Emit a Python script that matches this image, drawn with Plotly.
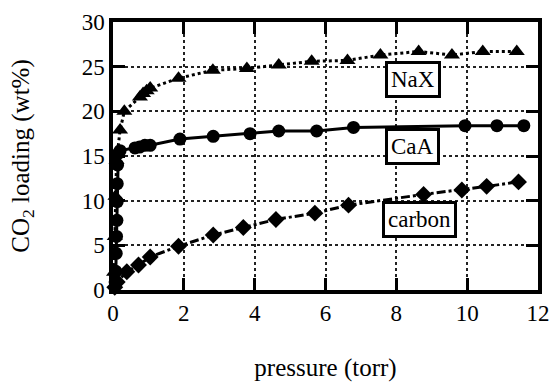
import plotly.graph_objects as go

# NaX (triangles, dotted)
nax_x = [0.03, 0.05, 0.07, 0.1, 0.2, 0.32, 0.76, 0.85, 0.95, 1.05, 1.85, 2.82, 3.78, 4.68, 5.61, 6.62, 7.55, 8.63, 9.57, 10.44, 11.4]
nax_y = [2.0, 6.0, 10.5, 14.5, 17.9, 20.0, 21.6, 22.0, 22.3, 22.6, 23.7, 24.6, 24.8, 25.2, 25.6, 25.7, 26.3, 26.7, 26.3, 26.7, 26.7]

# CaA (circles, solid)
caa_x = [0.06, 0.08, 0.09, 0.1, 0.11, 0.12, 0.12, 0.13, 0.15, 0.2, 0.62, 0.75, 0.9, 1.05, 1.89, 2.83, 3.87, 4.68, 5.75, 6.79, 9.94, 10.84, 11.6]
caa_y = [0.9, 2.1, 4.1, 6.0, 7.8, 9.9, 11.9, 14.0, 15.3, 15.6, 15.9, 16.0, 16.2, 16.2, 16.9, 17.2, 17.5, 17.8, 17.8, 18.2, 18.4, 18.4, 18.4]

# carbon (diamonds, dash-dot)
carb_x = [0.05, 0.12, 0.39, 0.72, 1.05, 1.85, 2.83, 3.68, 4.6, 5.7, 6.65, 8.77, 9.85, 10.55, 11.45]
carb_y = [0.3, 0.9, 2.05, 2.8, 3.7, 4.9, 6.15, 7.0, 7.9, 8.6, 9.5, 10.7, 11.2, 11.6, 12.1]

labels = ["NaX", "CaA", "carbon"]
label_x = [8.46, 8.46, 8.64]
label_y = [23.6, 16.1, 7.9]

x_ticks = [0, 2, 4, 6, 8, 10, 12]
y_ticks = [0, 5, 10, 15, 20, 25, 30]

FONT = "Liberation Serif, Times New Roman, serif"

fig = go.Figure()
fig.add_trace(go.Scatter(x=nax_x, y=nax_y, mode="lines+markers",
                         line=dict(color="black", width=3, dash="dot"),
                         marker=dict(symbol="triangle-up", size=14, color="black"),
                         cliponaxis=False, showlegend=False))
fig.add_trace(go.Scatter(x=caa_x, y=caa_y, mode="lines+markers",
                         line=dict(color="black", width=3),
                         marker=dict(symbol="circle", size=13, color="black"),
                         cliponaxis=False, showlegend=False))
fig.add_trace(go.Scatter(x=carb_x, y=carb_y, mode="lines+markers",
                         line=dict(color="black", width=3, dash="dashdot"),
                         marker=dict(symbol="diamond", size=13, color="black"),
                         cliponaxis=False, showlegend=False))

for t, lx, ly in zip(labels, label_x, label_y):
    fig.add_annotation(x=lx, y=ly, text=t, showarrow=False,
                       font=dict(family=FONT, size=23, color="black"),
                       bgcolor="white", bordercolor="black", borderwidth=3,
                       borderpad=3)

axis_common = dict(showline=True, linecolor="black", linewidth=3.5, mirror="allticks",
                   ticks="inside", ticklen=12, tickwidth=3, tickcolor="black",
                   showgrid=True, gridcolor="#222", gridwidth=1.5, griddash="dot",
                   zeroline=False,
                   tickfont=dict(family=FONT, size=23, color="black"))

fig.update_xaxes(range=[0, 12], tickvals=x_ticks, ticktext=[str(v) for v in x_ticks],
                 title=dict(text="pressure (torr)", font=dict(family=FONT, size=25, color="black"),
                            standoff=52),
                 **axis_common)
fig.update_yaxes(range=[0, 30], tickvals=y_ticks, ticktext=[str(v) for v in y_ticks],
                 title=dict(text="CO<sub>2</sub> loading (wt%)", font=dict(family=FONT, size=25, color="black"),
                            standoff=46),
                 **axis_common)

fig.update_layout(width=556, height=382, margin=dict(l=113, r=18, t=22, b=92, autoexpand=False),
                  plot_bgcolor="white", paper_bgcolor="white")

fig.write_html("out.html", config={"displayModeBar": False},
               post_script="document.body.style.margin='0';")
